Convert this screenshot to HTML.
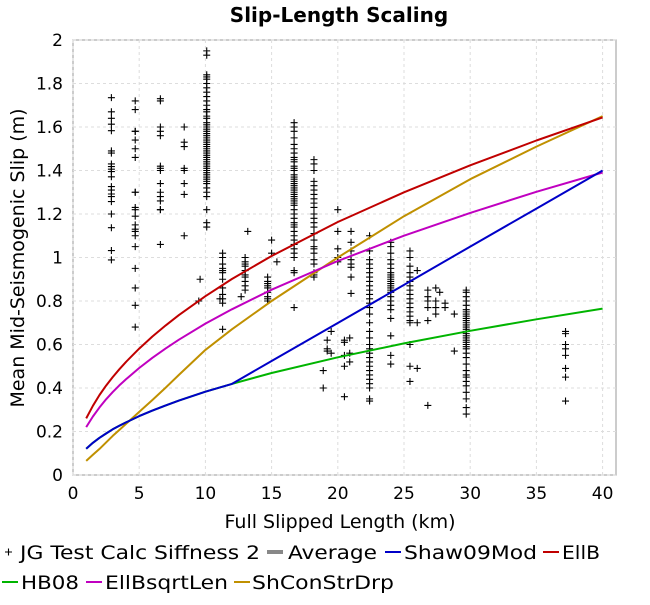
<!DOCTYPE html>
<html><head><meta charset="utf-8"><style>
body{margin:0;background:#fff;}
svg{font-family:"DejaVu Sans","Liberation Sans",sans-serif;}
</style></head><body>
<svg id="c" width="650" height="600" xmlns="http://www.w3.org/2000/svg"></svg>
<script>
const xTicks=[0,5,10,15,20,25,30,35,40];
const yTicks=[0,0.2,0.4,0.6,0.8,1,1.2,1.4,1.6,1.8,2];
const yTickLabels=["0","0.2","0.4","0.6","0.8","1","1.2","1.4","1.6","1.8","2"];
const lineL=[1,1.5,2,2.5,3,3.5,4,5,6,7,8,10,12,15,20,25,30,35,40];
const ellB=[0.26,0.318,0.368,0.411,0.45,0.486,0.52,0.581,0.637,0.688,0.735,0.822,0.901,1.007,1.163,1.30,1.424,1.538,1.644];
const ellBsqrt=[0.22,0.269,0.311,0.348,0.381,0.412,0.44,0.492,0.539,0.582,0.622,0.696,0.762,0.852,0.984,1.10,1.205,1.302,1.391];
const hb08=[0.121,0.148,0.171,0.191,0.21,0.226,0.242,0.271,0.296,0.32,0.342,0.383,0.419,0.469,0.541,0.605,0.663,0.716,0.765];
const shaw=[0.121,0.148,0.171,0.191,0.21,0.226,0.242,0.271,0.296,0.32,0.342,0.383,0.419,0.524,0.699,0.874,1.05,1.225,1.4];
const shCon=[0.065,0.093,0.12,0.15,0.18,0.207,0.235,0.29,0.345,0.402,0.46,0.575,0.67,0.80,1.0,1.19,1.36,1.51,1.65];
const scatterCols=[
[2.9,[1.735,1.67,1.64,1.613,1.583,1.49,1.48,1.43,1.418,1.406,1.395,1.371,1.326,1.31,1.292,1.28,1.257,1.2,1.137,1.032,0.989]],
[4.7,[1.72,1.68,1.58,1.58,1.54,1.5,1.46,1.3,1.3,1.23,1.22,1.19,1.15,1.13,1.12,1.1,1.05,0.95,0.86,0.78,0.68]],
[6.6,[1.73,1.72,1.6,1.58,1.56,1.42,1.41,1.4,1.34,1.3,1.28,1.26,1.22,1.22,1.06]],
[8.4,[1.6,1.53,1.51,1.41,1.4,1.34,1.29,1.1]],
[9.6,[0.9]],[9.5,[0.8]],
[10.1,[1.95,1.93,1.84,1.83,1.82,1.8,1.78,1.76,1.74,1.72,1.7,1.68,1.67,1.65,1.64,1.62,1.61,1.6,1.59,1.58,1.57,1.56,1.55,1.54,1.53,1.52,1.51,1.5,1.49,1.48,1.47,1.46,1.45,1.44,1.43,1.42,1.41,1.4,1.39,1.38,1.37,1.36,1.35,1.34,1.32,1.3,1.28,1.22,1.16,1.14]],
[11.3,[1.02,1.0,0.97,0.95,0.94,0.93,0.9,0.86,0.83,0.81,0.79,0.67]],[11.1,[0.81]],
[13.0,[1.0,0.98,0.97,0.96,0.94,0.92,0.91,0.89,0.87,0.85]],[12.7,[0.82]],[13.2,[1.12]],
[14.7,[0.91,0.89,0.88,0.87,0.86,0.84,0.82,0.81,0.8]],[15.0,[1.08,1.02]],[15.4,[0.98]],
[16.7,[1.62,1.6,1.58,1.55,1.52,1.5,1.48,1.46,1.45,1.44,1.42,1.41,1.4,1.38,1.37,1.36,1.35,1.34,1.33,1.32,1.31,1.3,1.29,1.28,1.27,1.26,1.25,1.24,1.22,1.2,1.18,1.16,1.15,1.14,1.12,1.1,1.08,1.06,1.04,1.02,1.0,0.94,0.93,0.77]],
[18.2,[1.45,1.43,1.4,1.35,1.33,1.31,1.29,1.27,1.25,1.23,1.2,1.18,1.16,1.14,1.11,1.08,1.05,1.04,1.02,0.99,0.97,0.93,0.92,0.91]],
[18.9,[0.48,0.4]],[19.2,[0.62,0.58,0.57]],[19.5,[0.66,0.56]],
[20.0,[1.22,1.12,1.04,1.0,0.98]],
[21.0,[1.12,1.07,1.03,0.99,0.97,0.955,0.91,0.835]],
[20.5,[0.62,0.61,0.55,0.5,0.36]],[20.9,[0.63,0.56,0.52]],
[22.4,[1.1,1.03,0.99,0.97,0.95,0.93,0.91,0.89,0.87,0.85,0.83,0.81,0.79,0.77,0.74,0.7,0.66,0.63,0.6,0.58,0.56,0.54,0.52,0.5,0.48,0.46,0.44,0.42,0.4,0.35,0.34]],
[24.0,[1.07,1.05,1.02,0.99,0.97,0.95,0.93,0.92,0.91,0.9,0.89,0.88,0.87,0.86,0.85,0.84,0.82,0.8,0.78,0.76,0.72,0.64,0.55,0.51]],
[25.45,[1.03,1.0,0.96,0.93,0.91,0.89,0.87,0.85,0.83,0.81,0.79,0.77,0.75,0.73,0.71,0.7,0.6,0.5,0.43]],
[26.0,[0.94,0.7,0.49]],
[26.8,[0.85,0.82,0.8,0.77,0.71,0.32]],[27.4,[0.86,0.8,0.77,0.74]],[27.7,[0.84]],[28.1,[0.79,0.77]],
[28.8,[0.74,0.57]],
[29.7,[0.85,0.84,0.82,0.8,0.78,0.76,0.75,0.74,0.73,0.72,0.71,0.7,0.69,0.68,0.67,0.66,0.65,0.64,0.63,0.62,0.61,0.6,0.59,0.58,0.56,0.54,0.51,0.48,0.46,0.45,0.43,0.41,0.38,0.35,0.31,0.28]],
[37.2,[0.66,0.65,0.6,0.58,0.55,0.49,0.45,0.34]]
];
const NS="http://www.w3.org/2000/svg";
const svg=document.getElementById('c');
const X0=73,X1=602.6,Y0=475,Y1=40;
const sx=v=>X0+(X1-X0)*v/40;
const sy=v=>Y0-(Y0-Y1)*v/2;
function mk(t,a,p){const e=document.createElementNS(NS,t);for(const k in a)e.setAttribute(k,a[k]);(p||svg).appendChild(e);return e;}
let e;
e=mk('rect',{x:X0,y:Y1,width:543,height:Y0-Y1,fill:'#fff',stroke:'#aaa','stroke-width':1.2});


xTicks.forEach(v=>{
 e=mk('line',{x1:sx(v),x2:sx(v),y1:Y1,y2:Y0,stroke:'#ddd','stroke-dasharray':'3,3'});
 
 
 e=mk('text',{x:sx(v),y:499,'text-anchor':'middle','font-size':17,fill:'#000'});e.textContent=v;
 
 
});
yTicks.forEach((v,i)=>{
 e=mk('line',{x1:X0,x2:616,y1:sy(v),y2:sy(v),stroke:'#ddd','stroke-dasharray':'3,3'});
 
 
 e=mk('text',{x:63,y:sy(v)+6,'text-anchor':'end','font-size':17,fill:'#000'});e.textContent=yTickLabels[i];
 
 
});
const g=mk('g',{stroke:'#000','stroke-width':1.1});


scatterCols.forEach(c=>c[1].forEach(v=>{
 const x=sx(c[0]),y=sy(v);
 e=mk('path',{d:`M${x-3.5},${y}h7M${x},${y-3.5}v7`},g);
 
 
}));
function line(arr,col,name){
 const d=lineL.map((L,i)=>(i?'L':'M')+sx(L).toFixed(1)+','+sy(arr[i]).toFixed(1)).join('');
 const p=mk('path',{d:d,fill:'none',stroke:col,'stroke-width':2,'stroke-linejoin':'round'});
 
 
}
line(shCon,'#c09000','shconstrdrp-line');
line(ellBsqrt,'#c000c0','ellbsqrtlen-line');
line(hb08,'#00b400','hb08-line');
line(shaw,'#0000c8','shaw09mod-line');
line(ellB,'#c00000','ellb-line');
e=mk('text',{x:339,y:22,'text-anchor':'middle','font-size':20,'font-weight':'bold'});e.textContent='Slip-Length Scaling';


e=mk('text',{x:340,y:528,'text-anchor':'middle','font-size':19});e.textContent='Full Slipped Length (km)';


e=mk('text',{x:0,y:0,'text-anchor':'middle','font-size':19,transform:'translate(24,258) rotate(-90)'});e.textContent='Mean Mid-Seismogenic Slip (m)';


// [markerX, y, type, color, label, textX, textWidth]
const leg=[
 [5,552,'plus','#000','JG Test Calc Siffness 2',20,240],
 [267,552,'line','#888','Average',288,89],
 [385,552,'line','#0000c8','Shaw09Mod',404,133],
 [543,552,'line','#c00000','EllB',562,38],
 [2,582,'line','#00b400','HB08',21,58],
 [86,582,'line','#c000c0','EllBsqrtLen',105,123],
 [234,582,'line','#c09000','ShConStrDrp',252,142]
];
leg.forEach(l=>{
 const gg=mk('g',{});
 
 
 if(l[2]=='plus'){mk('path',{d:`M${l[0]},${l[1]}h7M${l[0]+3.5},${l[1]-3.5}v7`,stroke:'#000','stroke-width':1.1},gg);}
 else{mk('line',{x1:l[0],x2:l[0]+16,y1:l[1],y2:l[1],stroke:l[3],'stroke-width':l[4]=='Average'?4:2},gg);}
 const t=mk('text',{x:l[5],y:l[1]+7,'font-size':19,textLength:l[6],lengthAdjust:'spacingAndGlyphs'},gg);t.textContent=l[4];
});
</script>
</body></html>
